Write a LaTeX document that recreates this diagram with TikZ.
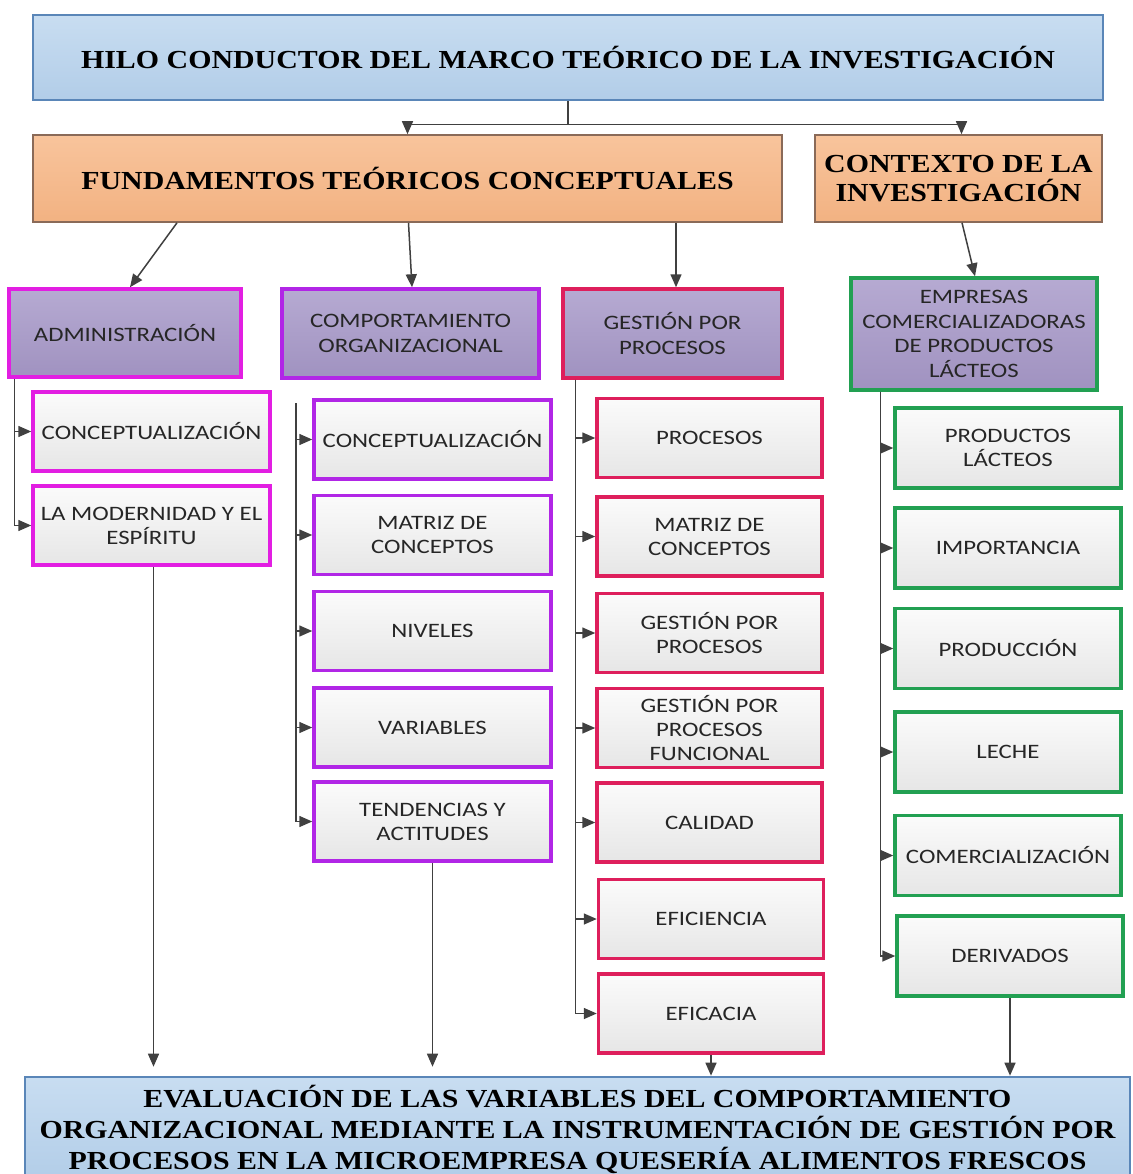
\documentclass[tikz,border=0pt]{standalone}
\usepackage{fontspec}
\usetikzlibrary{arrows.meta}
\newfontfamily\hdfont{Liberation Serif}[FakeStretch=1.15]
\newfontfamily\bxfont{Carlito}[FakeStretch=1.21]

\definecolor{linkgray}{HTML}{404040}
\definecolor{titleedge}{HTML}{5A86B8}
\definecolor{titletop}{HTML}{C8DDF1}
\definecolor{titlebot}{HTML}{B2CDE8}
\definecolor{orgedge}{HTML}{8A6A58}
\definecolor{orgtop}{HTML}{F8C49C}
\definecolor{orgbot}{HTML}{F2B282}
\definecolor{lavtop}{HTML}{B6AAD2}
\definecolor{lavbot}{HTML}{A092C0}
\definecolor{cardtop}{HTML}{FBFBFB}
\definecolor{cardbot}{HTML}{E6E6E6}
\definecolor{magline}{HTML}{E21EE2}
\definecolor{vioine}{HTML}{B126E6}
\definecolor{crimline}{HTML}{DE1F5C}
\definecolor{greenline}{HTML}{22A052}
\definecolor{inktext}{HTML}{262626}

\tikzset{
  x=1pt, y=-1pt,
  conn/.style={draw=linkgray, line width=1.5pt},
  arr/.style={conn, -{Triangle[length=13pt,width=11pt]}},
  banner/.style={draw=titleedge, line width=2.6pt, top color=titletop, bottom color=titlebot,
    font=\hdfont\bfseries\fontsize{26}{31}\selectfont, text=black, align=center, inner sep=0pt},
  orangebox/.style={draw=orgedge, line width=1.6pt, top color=orgtop, bottom color=orgbot,
    font=\hdfont\bfseries\fontsize{26}{29}\selectfont, text=black, align=center, inner sep=0pt},
  headbox/.style={line width=3.5pt, top color=lavtop, bottom color=lavbot,
    font=\bxfont\fontsize{20.5}{24.5}\selectfont, text=inktext, align=center, inner sep=0pt},
  card/.style={line width=3.5pt, top color=cardtop, bottom color=cardbot,
    font=\bxfont\fontsize{20.5}{24}\selectfont, text=inktext, align=center, inner sep=0pt},
  colA/.style={draw=magline},
  colB/.style={draw=vioine},
  colC/.style={draw=crimline},
  colD/.style={draw=greenline},
}

\begin{document}
\begin{tikzpicture}
\useasboundingbox (0,0) rectangle (1132,1174);
\clip (0,0) rectangle (1132,1174);
\fill[white] (0,0) rectangle (1132,1174);

% top level
\node[banner, minimum width=1070pt, minimum height=85pt] (title) at (568,57.5)
  {HILO CONDUCTOR DEL MARCO TEÓRICO DE LA INVESTIGACIÓN};
\node[orangebox, minimum width=749pt, minimum height=87pt] (fund) at (407.5,178.5)
  {FUNDAMENTOS TEÓRICOS CONCEPTUALES};
\node[orangebox, minimum width=287pt, minimum height=87pt] (ctx) at (958.5,178.5)
  {CONTEXTO DE LA\\INVESTIGACIÓN};

% column headers
\node[headbox, colA, minimum width=232pt, minimum height=88pt] (adm) at (125,333) {ADMINISTRACIÓN};
\node[headbox, colB, minimum width=257pt, minimum height=89pt] (comp) at (410.5,333.5) {COMPORTAMIENTO\\ORGANIZACIONAL};
\node[headbox, colC, minimum width=219pt, minimum height=89pt] (gpp) at (672.5,333.5) {GESTIÓN POR\\PROCESOS};
\node[headbox, colD, minimum width=246pt, minimum height=112pt] (emp) at (974,334) {EMPRESAS\\COMERCIALIZADORAS\\DE PRODUCTOS\\LÁCTEOS};

% column 1
\begin{scope}[every node/.style={card, colA, minimum width=237pt, minimum height=79pt}]
\node (a1) at (151.5,431.5) {CONCEPTUALIZACIÓN};
\node (a2) at (151.5,525.5) {LA MODERNIDAD Y EL\\ESPÍRITU};
\end{scope}

% column 2
\begin{scope}[every node/.style={card, colB, minimum width=237pt, minimum height=79pt}]
\node (b1) at (432.5,439.5) {CONCEPTUALIZACIÓN};
\node (b2) at (432.5,535) {MATRIZ DE\\CONCEPTOS};
\node (b3) at (432.5,631) {NIVELES};
\node (b4) at (432.5,727.5) {VARIABLES};
\node (b5) at (432.5,821.5) {TENDENCIAS Y\\ACTITUDES};
\end{scope}

% column 3
\begin{scope}[every node/.style={card, colC, minimum width=225pt, minimum height=79pt}]
\node (c1) at (709.5,438) {PROCESOS};
\node (c2) at (709.5,536.5) {MATRIZ DE\\CONCEPTOS};
\node (c3) at (709.5,633) {GESTIÓN POR\\PROCESOS};
\node (c4) at (709.5,728) {GESTIÓN POR\\PROCESOS\\FUNCIONAL};
\node (c5) at (709.5,822.5) {CALIDAD};
\node (c6) at (711,919) {EFICIENCIA};
\node (c7) at (711,1013.5) {EFICACIA};
\end{scope}

% column 4
\begin{scope}[every node/.style={card, colD, minimum width=226pt, minimum height=80pt}]
\node (d1) at (1008,448) {PRODUCTOS\\LÁCTEOS};
\node (d2) at (1008,548) {IMPORTANCIA};
\node (d3) at (1008,648.5) {PRODUCCIÓN};
\node (d4) at (1008,752) {LECHE};
\node (d5) at (1008,855.5) {COMERCIALIZACIÓN};
\node (d6) at (1010,956) {DERIVADOS};
\end{scope}

% final goal
\node[banner, minimum width=1105pt, minimum height=104pt] (goal) at (577.5,1129)
  {EVALUACIÓN DE LAS VARIABLES DEL COMPORTAMIENTO\\
   ORGANIZACIONAL MEDIANTE LA INSTRUMENTACIÓN DE GESTIÓN POR\\
   PROCESOS EN LA MICROEMPRESA QUESERÍA ALIMENTOS FRESCOS};

% split from the title
\coordinate (hub) at ([yshift=-23pt]title.south);
\draw[conn] (title.south) -- (hub);
\draw[arr] (hub) -| (fund.north);
\draw[arr] (hub) -| ([xshift=3pt]ctx.north);

% theory blocks to headers
\draw[arr] ([xshift=-230.5pt]fund.south) -- ([xshift=5pt]adm.north);
\draw[arr] ([xshift=1pt]fund.south) -- ([xshift=1.5pt]comp.north);
\draw[arr] ([xshift=268.5pt]fund.south) -- ([xshift=3.5pt]gpp.north);
\draw[arr] ([xshift=3.5pt]ctx.south) -- ([xshift=1pt]emp.north);

% branch rails
\coordinate (ra) at ([xshift=7pt]adm.south west);
\foreach \n in {a1,a2} \draw[arr] (ra) |- (\n.west);
\coordinate (rb) at (296,403);
\foreach \n in {b1,b2,b3,b4,b5} \draw[arr] (rb) |- (\n.west);
\coordinate (rc) at ([xshift=14pt]gpp.south west);
\foreach \n in {c1,c2,c3,c4,c5,c6,c7} \draw[arr] (rc) |- (\n.west);
\coordinate (rd) at ([xshift=31pt]emp.south west);
\foreach \n in {d1,d2,d3,d4,d5,d6} \draw[arr] (rd) |- (\n.west);

% into the final goal
\draw[arr, shorten >=9pt] ([xshift=2pt]a2.south) -- ([xshift=2pt]a2.south |- goal.north);
\draw[arr, shorten >=9pt] (b5.south) -- (b5.south |- goal.north);
\draw[arr] (c7.south) -- (c7.south |- goal.north);
\draw[arr] (d6.south) -- (d6.south |- goal.north);
\end{tikzpicture}
\end{document}
